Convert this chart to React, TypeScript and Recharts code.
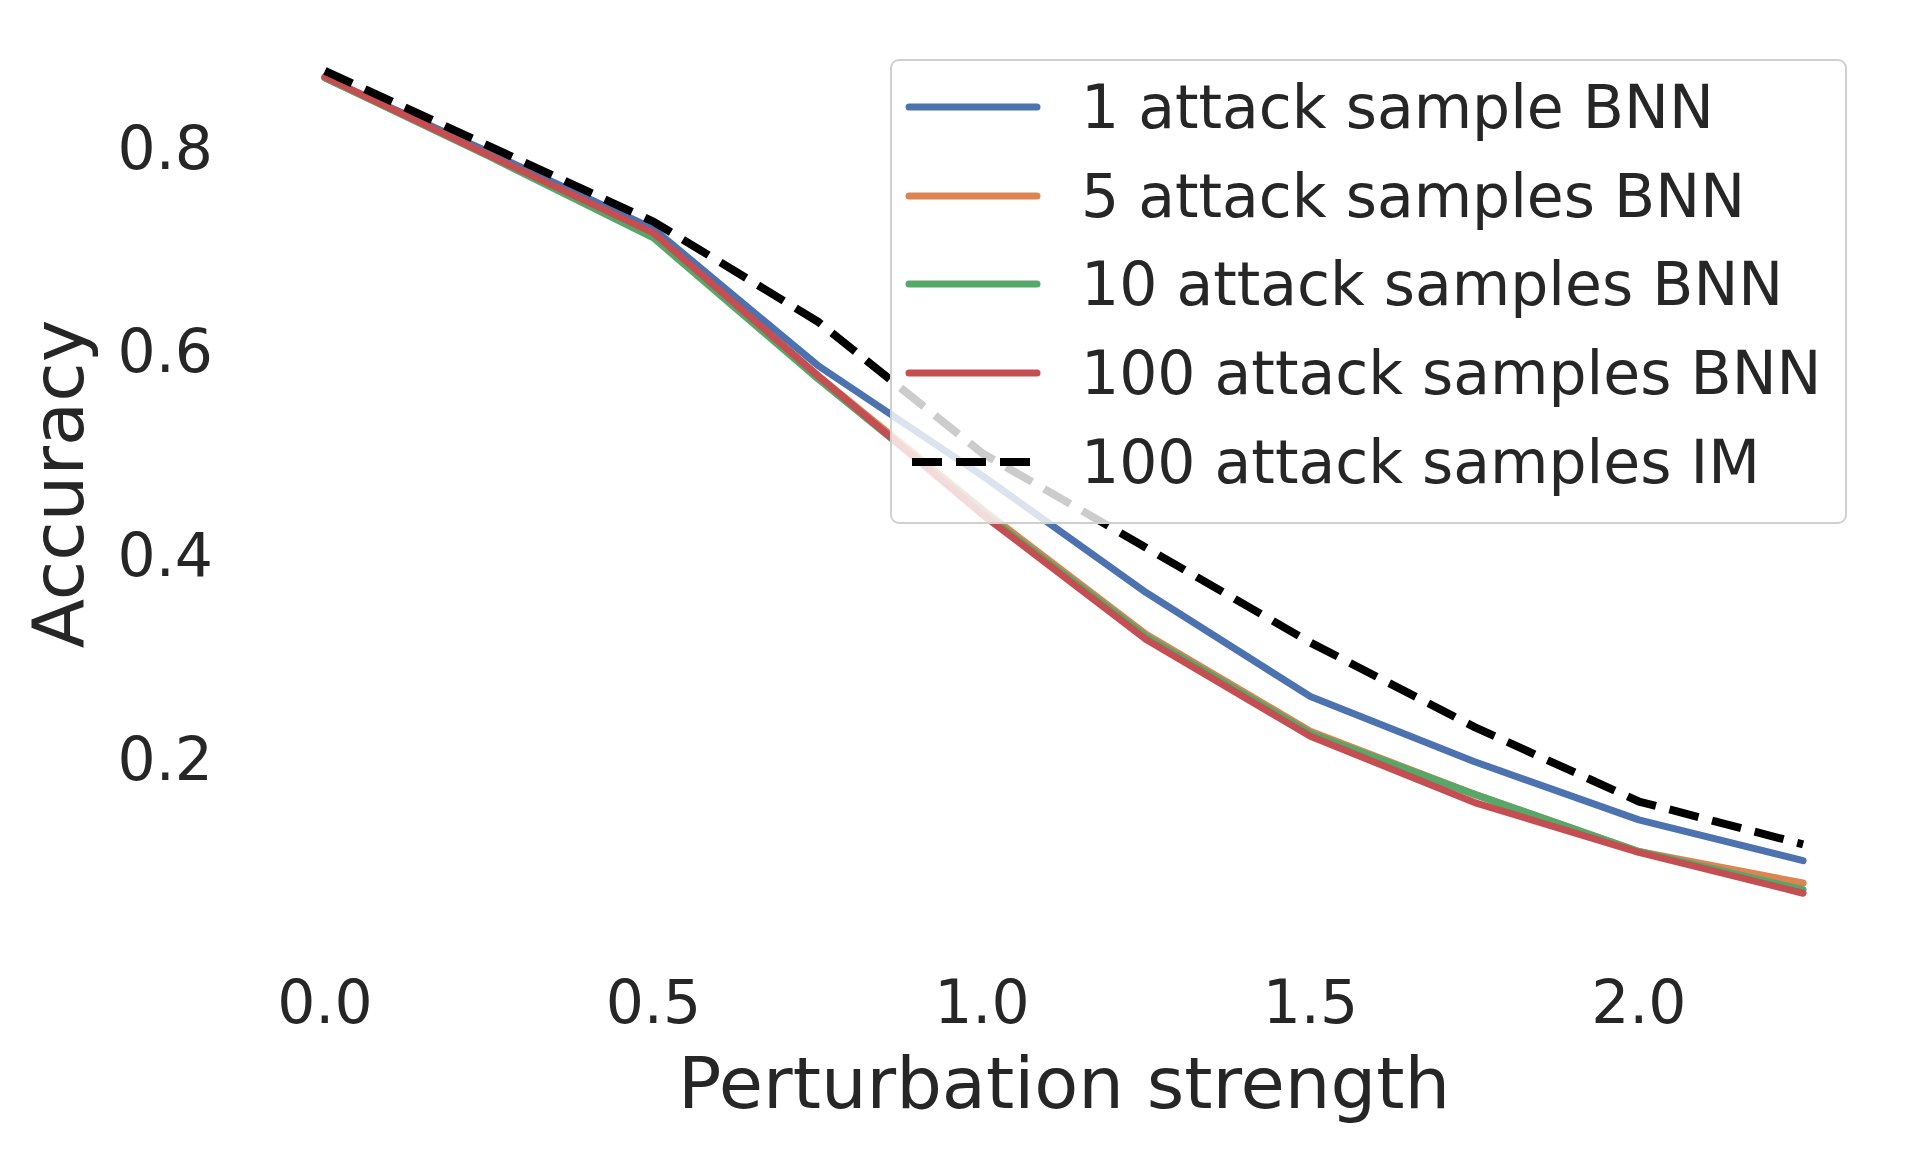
import { LineChart, Line, XAxis, YAxis, Legend, Label } from "recharts"

const strengths = [0, 0.25, 0.5, 0.75, 1.0, 1.25, 1.5, 1.75, 2.0, 2.25]

const bnn1 = [0.868, 0.795, 0.72, 0.586, 0.478, 0.363, 0.261, 0.197, 0.14, 0.1]
const bnn5 = [0.868, 0.792, 0.714, 0.576, 0.445, 0.322, 0.227, 0.165, 0.109, 0.078]
const bnn10 = [0.868, 0.791, 0.711, 0.573, 0.442, 0.32, 0.225, 0.165, 0.109, 0.0715]
const bnn100 = [0.869, 0.792, 0.716, 0.576, 0.44, 0.317, 0.222, 0.157, 0.108, 0.068]
const im100 = [0.875, 0.801, 0.727, 0.629, 0.5, 0.407, 0.314, 0.231, 0.158, 0.116]

const seriesNames = [
  "1 attack sample BNN",
  "5 attack samples BNN",
  "10 attack samples BNN",
  "100 attack samples BNN",
  "100 attack samples IM",
]
const seriesValues = [bnn1, bnn5, bnn10, bnn100, im100]

const xTicks = [0, 0.5, 1.0, 1.5, 2.0]
const yTicks = [0.2, 0.4, 0.6, 0.8]

const COLORS: Record<string, string> = {
  "1 attack sample BNN": "#4c72b0",
  "5 attack samples BNN": "#dd8452",
  "10 attack samples BNN": "#55a868",
  "100 attack samples BNN": "#c44e52",
  "100 attack samples IM": "#000000",
}
const DASHED = "100 attack samples IM"

const data = strengths.map((x, i) => {
  const row: Record<string, number> = { x }
  seriesNames.forEach((name, s) => {
    row[name] = seriesValues[s][i]
  })
  return row
})

const FONT = "'DejaVu Sans', sans-serif"
const TEXT = "#262626"

function LegendBox() {
  const rowCenters = [48, 137, 225, 314, 403]
  return (
    <div
      style={{
        position: "relative",
        width: 957,
        height: 465,
        boxSizing: "border-box",
        border: "2.5px solid #d0d0d0",
        borderRadius: 9,
        background: "rgba(255,255,255,0.8)",
        fontFamily: FONT,
      }}
    >
      {seriesNames.map((name, i) => {
        const dashed = name === DASHED
        return (
          <div
            key={name}
            style={{
              position: "absolute",
              left: 0,
              top: rowCenters[i] - 2.5 - 30,
              height: 60,
            }}
          >
            <svg width={150} height={20} style={{ position: "absolute", left: 10, top: 20 }}>
              <line
                x1={dashed ? 10 : 7}
                x2={dashed ? 130 : 135}
                y1={10}
                y2={10}
                stroke={COLORS[name]}
                strokeWidth={dashed ? 8 : 7}
                strokeDasharray={dashed ? "30 14" : undefined}
                strokeLinecap={dashed ? "butt" : "round"}
              />
            </svg>
            <span
              style={{
                position: "absolute",
                left: 189,
                top: 0,
                fontSize: 60,
                lineHeight: "60px",
                color: TEXT,
                whiteSpace: "nowrap",
              }}
            >
              {name}
            </span>
          </div>
        )
      })}
    </div>
  )
}

export default function App() {
  return (
    <div style={{ width: 1900, height: 1142, background: "#fff" }}>
      <LineChart
        width={1900}
        height={1142}
        data={data}
        margin={{ top: 22, right: 31, left: 0, bottom: 116 }}
        style={{ fontFamily: FONT }}
      >
        <XAxis
          dataKey="x"
          type="number"
          domain={[-0.1125, 2.3625]}
          ticks={xTicks}
          tickFormatter={(v: number) => v.toFixed(1)}
          axisLine={false}
          tickLine={false}
          tickSize={0}
          tickMargin={46}
          height={100}
          allowDataOverflow
          tick={{ fontSize: 60, fill: TEXT, fontFamily: FONT }}
        >
          <Label
            content={() => (
              <text
                x={1056}
                y={1100}
                textAnchor="middle"
                style={{ fontSize: 72, fill: TEXT, fontFamily: FONT }}
              >
                Perturbation strength
              </text>
            )}
          />
        </XAxis>
        <YAxis
          type="number"
          domain={[0.028, 0.915]}
          ticks={yTicks}
          tickFormatter={(v: number) => v.toFixed(1)}
          axisLine={false}
          tickLine={false}
          tickSize={0}
          tickMargin={38}
          width={243}
          allowDataOverflow
          tick={{ fontSize: 60, fill: TEXT, fontFamily: FONT }}
        >
          <Label
            content={() => (
              <text
                x={75}
                y={476}
                textAnchor="middle"
                transform="rotate(-90, 75, 476)"
                style={{ fontSize: 72, fill: TEXT, fontFamily: FONT }}
              >
                Accuracy
              </text>
            )}
          />
        </YAxis>
        {seriesNames.map((name) => {
          const dashed = name === DASHED
          return (
            <Line
              key={name}
              type="linear"
              dataKey={name}
              name={name}
              stroke={COLORS[name]}
              strokeWidth={dashed ? 8 : 7}
              strokeDasharray={dashed ? "30 14" : undefined}
              strokeLinecap={dashed ? "butt" : "round"}
              strokeLinejoin="round"
              dot={false}
              activeDot={false}
              isAnimationActive={false}
            />
          )
        })}
        <Legend
          layout="horizontal"
          verticalAlign="middle"
          align="center"
          content={() => <LegendBox />}
          wrapperStyle={{ position: "absolute", left: 882, top: 51, width: 957, height: 465 }}
        />
      </LineChart>
    </div>
  )
}
